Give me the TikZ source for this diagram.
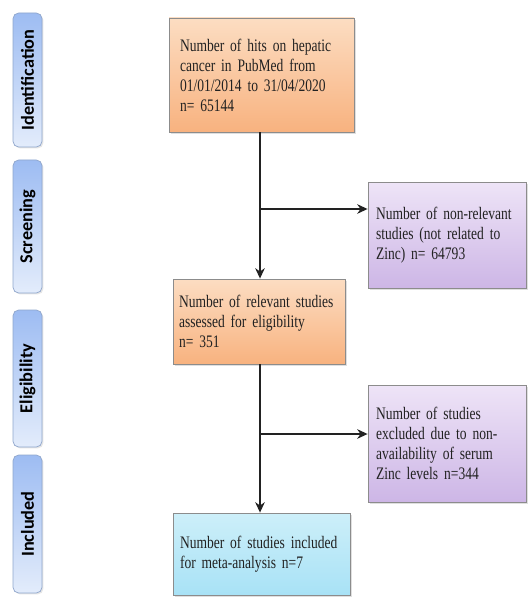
\documentclass[tikz,border=0pt]{standalone}
\usepackage{fontspec}
\setmainfont{Liberation Serif}[FakeStretch=0.77]
\newfontfamily\sidefont{Carlito}
\usepackage{tikz}
\usepackage{xcolor}
\usetikzlibrary{arrows.meta,positioning,calc,shadows}
\definecolor{Ink}{HTML}{222222}
\definecolor{Edge}{HTML}{8C8C8C}
\definecolor{PeachTop}{HTML}{FCDDC2}
\definecolor{PeachBot}{HTML}{F8B27F}
\definecolor{LilacTop}{HTML}{EEE4F7}
\definecolor{LilacBot}{HTML}{CDB6E6}
\definecolor{AquaTop}{HTML}{CDEFF9}
\definecolor{AquaBot}{HTML}{A8E2F6}
\definecolor{SkyTop}{HTML}{9DBCF2}
\definecolor{SkyBot}{HTML}{E3ECFB}
\definecolor{SkyEdge}{HTML}{8FA6CC}
\hyphenpenalty=10000
\exhyphenpenalty=10000

\begin{document}
\begin{tikzpicture}[x=0.025cm,y=-0.025cm,
    box/.style={draw=Edge, line width=0.6pt, align=left, inner sep=0pt,
      text=Ink, font=\fontsize{12.5}{14.2}\selectfont,
      drop shadow={opacity=0.25, shadow xshift=1.2pt, shadow yshift=-1.2pt}},
    peach/.style={box, top color=PeachTop, bottom color=PeachBot},
    lilac/.style={box, top color=LilacTop, bottom color=LilacBot},
    aqua/.style={box, top color=AquaTop, bottom color=AquaBot},
    phase/.style={draw=SkyEdge, line width=0.5pt, rounded corners=4pt,
      top color=SkyTop, bottom color=SkyBot, minimum width=29*0.025cm,
      text=black, font=\sidefont\bfseries\fontsize{13}{14}\selectfont,
      drop shadow={opacity=0.2, shadow xshift=1pt, shadow yshift=-1pt}},
    flow/.style={draw=Ink, line width=1.1pt, -{Stealth[length=2.6mm,width=2.4mm]}}]
    \useasboundingbox (0,0) rectangle (528,597);

    % phase labels
    \node[phase, minimum height=134*0.025cm] (ident) at (27.5,80) {\rotatebox{90}{Identification}};
    \node[phase, minimum height=133*0.025cm] (screen) at (27.5,226.5) {\rotatebox{90}{Screening}};
    \node[phase, minimum height=137*0.025cm] (elig) at (27.5,378.5) {\rotatebox{90}{Eligibility}};
    \node[phase, minimum height=138*0.025cm] (incl) at (27.5,524) {\rotatebox{90}{Included}};

    % flow boxes
    \node[peach, minimum width=185*0.025cm, minimum height=114*0.025cm, text width=163*0.025cm] (hits) at (261.5,75)
      {Number of hits on hepatic\\cancer in PubMed from\\01/01/2014 to 31/04/2020\\n= 65144};
    \node[peach, minimum width=172*0.025cm, minimum height=85*0.025cm, text width=160*0.025cm] (relevant) at (259,321.5)
      {Number of relevant studies\\assessed for eligibility\\n= 351};
    \node[aqua, minimum width=177*0.025cm, minimum height=82*0.025cm, text width=163*0.025cm] (included) at (261.5,554)
      {Number of studies included\\for meta-analysis n=7\\[6pt]};
    \node[lilac, minimum width=158*0.025cm, minimum height=106*0.025cm, text width=142*0.025cm] (nonrel) at (447,235)
      {Number of non-relevant\\studies (not related to\\Zinc) n= 64793};
    \node[lilac, minimum width=158*0.025cm, minimum height=117*0.025cm, text width=142*0.025cm] (excluded) at (447,443.5)
      {Number of studies\\excluded due to non-\\availability of serum\\Zinc levels n=344};

    % connectors
    \coordinate (split1) at (260,209);
    \coordinate (split2) at (260,434);
    \draw[flow] (hits.south -| split1) -- (relevant.north -| split1);
    \draw[flow] (relevant.south -| split2) -- (included.north -| split2);
    \draw[flow] (split1) -- (split1 -| nonrel.west);
    \draw[flow] (split2) -- (split2 -| excluded.west);
\end{tikzpicture}
\end{document}
